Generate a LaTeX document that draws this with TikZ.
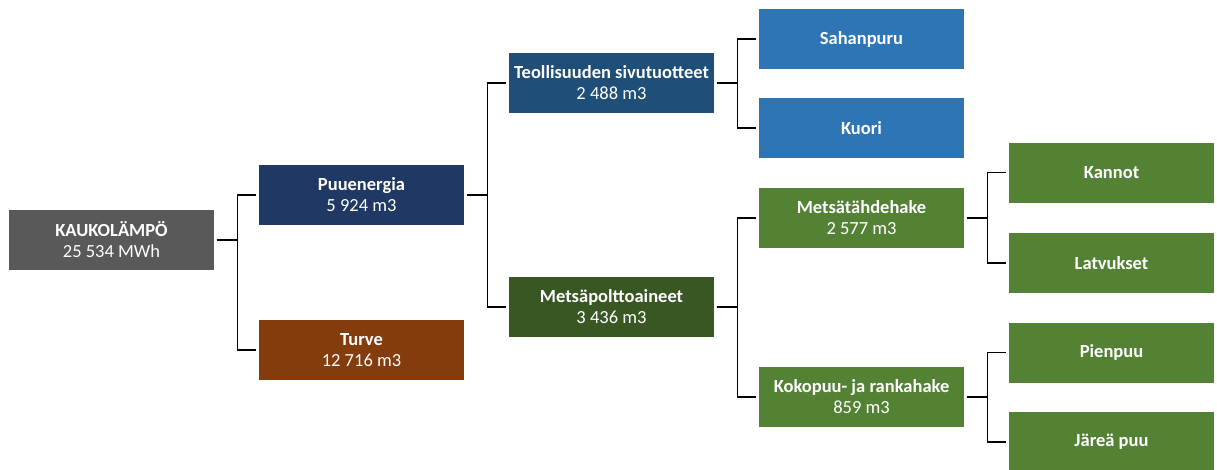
\documentclass[tikz,border=0pt]{standalone}
\usepackage{fontspec}
\setmainfont{Carlito}
\definecolor{grayK}{HTML}{595959}
\definecolor{navyP}{HTML}{203864}
\definecolor{brownT}{HTML}{843C0C}
\definecolor{blueT}{HTML}{1F4E79}
\definecolor{greenM}{HTML}{385723}
\definecolor{blueS}{HTML}{2E75B6}
\definecolor{greenS}{HTML}{548235}
\begin{document}
\begin{tikzpicture}[x=1pt,y=-1pt,
  box/.style={rectangle,minimum width=205pt,minimum height=60pt,inner sep=0pt,
    text=white,align=center,font=\fontsize{18.5}{21}\selectfont},
  link/.style={line width=1.2pt,black,shorten <=2.5pt,shorten >=2.5pt}]
\useasboundingbox (0,0) rectangle (1217,469);

\node[box,fill=grayK]  (kauko)  at (111.5,240) {\textbf{KAUKOLÄMPÖ}\\25 534 MWh};

\node[box,fill=navyP]  (puu)    at (361.5,195) {\textbf{Puuenergia}\\5 924 m3};
\node[box,fill=brownT] (turve)  at (361.5,350) {\textbf{Turve}\\12 716 m3};

\node[box,fill=blueT]  (teol)   at (611.5,83)  {\textbf{Teollisuuden sivutuotteet}\\2 488 m3};
\node[box,fill=greenM] (metsa)  at (611.5,307) {\textbf{Metsäpolttoaineet}\\3 436 m3};

\node[box,fill=blueS]  (saha)   at (861.5,39)  {\textbf{Sahanpuru}};
\node[box,fill=blueS]  (kuori)  at (861.5,128) {\textbf{Kuori}};
\node[box,fill=greenS] (tahde)  at (861.5,218) {\textbf{Metsätähdehake}\\2 577 m3};
\node[box,fill=greenS] (koko)   at (861.5,397) {\textbf{Kokopuu- ja rankahake}\\859 m3};

\node[box,fill=greenS] (kannot) at (1111.5,172.5) {\textbf{Kannot}};
\node[box,fill=greenS] (latv)   at (1111.5,263)   {\textbf{Latvukset}};
\node[box,fill=greenS] (pien)   at (1111.5,352.5) {\textbf{Pienpuu}};
\node[box,fill=greenS] (jarea)  at (1111.5,442)   {\textbf{Järeä puu}};

% connectors
\draw[link] (kauko.east) -- ++(23,0) |- (puu.west);
\draw[link] (kauko.east) -- ++(23,0) |- (turve.west);

\draw[link] (puu.east) -- ++(23,0) |- (teol.west);
\draw[link] (puu.east) -- ++(23,0) |- (metsa.west);

\draw[link] (teol.east) -- ++(23,0) |- (saha.west);
\draw[link] (teol.east) -- ++(23,0) |- (kuori.west);

\draw[link] (metsa.east) -- ++(23,0) |- (tahde.west);
\draw[link] (metsa.east) -- ++(23,0) |- (koko.west);

\draw[link] (tahde.east) -- ++(23,0) |- (kannot.west);
\draw[link] (tahde.east) -- ++(23,0) |- (latv.west);

\draw[link] (koko.east) -- ++(23,0) |- (pien.west);
\draw[link] (koko.east) -- ++(23,0) |- (jarea.west);

\end{tikzpicture}
\end{document}
